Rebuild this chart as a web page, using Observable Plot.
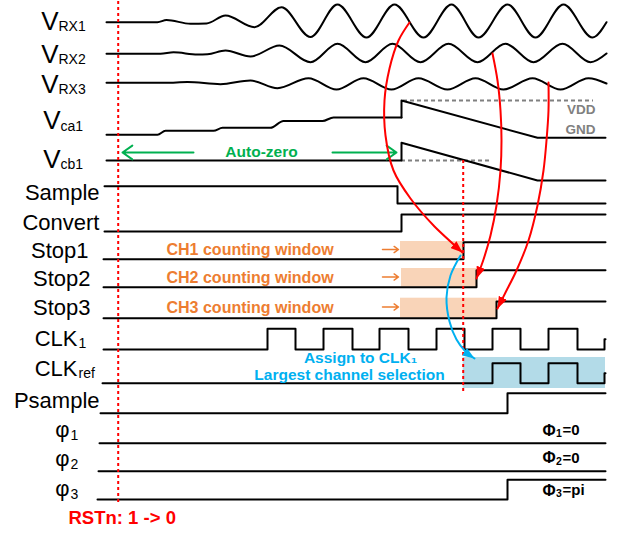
<!DOCTYPE html>
<html><head><meta charset="utf-8">
<script src="https://cdn.jsdelivr.net/npm/d3@7"></script>
<script src="https://cdn.jsdelivr.net/npm/@observablehq/plot@0.6"></script>
<style>html,body{margin:0;padding:0;background:#fff;overflow:hidden}</style>
</head><body><div id="chart"></div>
<script>
// ================= DATA (time axis in diagram units, levels 0 = low, 1 = high) =================
const tEnd = 605;

// analog waveforms: [time, value] extrema
const vrx1 = [[106,21.7],[157,21.7],[166,19.5],[190,23.3],[206,23],[225,15],[254,26.7],[281,6.7],[310,36.5],[337,4],[366,37],[394,4],[423,37],[451,4],[478,37],[507,4],[535,37],[563,4],[592,37],[606,21.7]];
const vrx2 = [[106,53.3],[160,53.3],[173,51.8],[197,54],[207,53.8],[225,50],[250,56],[279,45],[310,61.7],[337,43.3],[365,61.7],[392,43.3],[420,61.7],[448,43.3],[477,61.7],[505,43.3],[533,61.7],[562,43.3],[590,61.7],[606,53]];
const vrx3 = [[106,82.3],[165,82.3],[187,81.5],[220,83.7],[250,80],[277,87.7],[308,77.7],[336,89],[363,77.7],[391,89],[418,77.7],[447,89],[475,77.7],[503,89],[532,77.7],[560,89],[588,77.7],[606,83]];
const vca1Smooth = [[106,134.3],[157,134.3],[165,130.3],[213,130.3],[222,127.3],[270,127.3],[283,120.5],[322,120.5],[333,117],[401,117]];
const vca1Ramp = [[401,117],[401,100],[537,137.3],[605,137.3]];
const vcb1 = [[106,160],[401,160],[401,142.3],[537,180],[605,180]];

// digital signals: [edge time, level]
const digital = {
  Sample:  [[104,1],[397,0]],
  Convert: [[104,0],[401,1]],
  Stop1:   [[103,0],[463,1]],
  Stop2:   [[103,0],[476,1]],
  Stop3:   [[103,0],[496,1]],
  CLK1:    [[103,0],[267,1],[295,0],[323,1],[352,0],[379,1],[408,0],[436,1],[464,0],[492,1],[520,0],[548,1],[577,0],[604,0.5]],
  CLKref:  [[102,0],[492,1],[520,0],[548,1],[577,0],[604,0.5]],
  Psample: [[100,0],[507,1]],
  "φ1":    [[99,0]],
  "φ2":    [[98,0]],
  "φ3":    [[97,0],[507,1]]
};

// counting windows
const windows = [
  {lane:"Stop1", label:"CH1 counting window", start:400, stop:463},
  {lane:"Stop2", label:"CH2 counting window", start:401, stop:476},
  {lane:"Stop3", label:"CH3 counting window", start:400, stop:497}
];

// labels
const vLabels = [
  {main:"V", sub:"RX1", lane:"VRX1"}, {main:"V", sub:"RX2", lane:"VRX2"}, {main:"V", sub:"RX3", lane:"VRX3"},
  {main:"V", sub:"ca1", lane:"Vca1"}, {main:"V", sub:"cb1", lane:"Vcb1"}
];
const sigLabels = [
  {main:"Sample", sub:"", lane:"Sample"}, {main:"Convert", sub:"", lane:"Convert"},
  {main:"Stop1", sub:"", lane:"Stop1"}, {main:"Stop2", sub:"", lane:"Stop2"}, {main:"Stop3", sub:"", lane:"Stop3"},
  {main:"CLK", sub:"1", lane:"CLK1"}, {main:"CLK", sub:"ref", lane:"CLKref"},
  {main:"Psample", sub:"", lane:"Psample"},
  {main:"φ", sub:"1", lane:"φ1"}, {main:"φ", sub:"2", lane:"φ2"}, {main:"φ", sub:"3", lane:"φ3"}
];
const phaseLabels = [
  {main:"Φ", sub:"1", rest:"=0", lane:"φ1"}, {main:"Φ", sub:"2", rest:"=0", lane:"φ2"}, {main:"Φ", sub:"3", rest:"=pi", lane:"φ3"}
];
const railLabels = ["VDD", "GND"];
const autoZeroLabel = "Auto-zero";
const assignLabels = ["Assign to CLK₁", "Largest channel selection"];
const resetLabel = "RSTn: 1 -> 0";
const resetTime = 117.7;
const selectTime = 462.7;

// ================= LAYOUT =================
const laneLevels = { // [low y, high y]
  Sample:[203,185.7], Convert:[231,214], Stop1:[258.7,241.7], Stop2:[286.7,269.7], Stop3:[317.7,301],
  CLK1:[349,328.3], CLKref:[382.7,362.7], Psample:[412.7,392.7],
  "φ1":[442.7,442.7], "φ2":[470.7,470.7], "φ3":[499,479.3]
};
const labelPos = { // [anchor x, main y, sub y]
  VRX1:[58,20.7,26.3], VRX2:[58,53.7,59.3], VRX3:[58,83.7,89.3], Vca1:[60,119.7,125.8], Vcb1:[60,158.7,163.8],
  Sample:[99,192.8], Convert:[99,222], Stop1:[88,250.5], Stop2:[90,278.5], Stop3:[90,307.5],
  CLK1:[77,338.3,342.8], CLKref:[77,368.3,372.8], Psample:[99,400.8],
  "φ1":[69,429,434.8], "φ2":[69,458,463.8], "φ3":[69,488,493.8]
};
const windowTextY = {Stop1:249.5, Stop2:277, Stop3:307};
const windowTop = {Stop1:241, Stop2:268, Stop3:297.7};
const phaseY = {"φ1":430, "φ2":457.3, "φ3":490};

const font = "Liberation Sans, Arial, Helvetica, sans-serif";
const RED = "#ff0000", GREEN = "#00b050", ORANGE = "#ed7d31", BLUE = "#00b0f0", GRAY = "#808080";

// arrow paths (annotation curves)
const redArrows = [
  {id:1, pts:[[409,22],[398,40],[389,68],[384,100],[385,135],[393,170],[410,198],[434,226],[462,252]]},
  {id:2, pts:[[492,53],[497,80],[500,110],[501,140],[500,170],[496,205],[490,235],[483,259],[476,278]]},
  {id:3, pts:[[548,82],[548,110],[546,140],[543,170],[537,205],[528,240],[516,270],[505,292],[497,308]]}
];
const blueArrow = [[460,255],[450,275],[446,297],[449,321],[456,339],[465,351],[474,358]];

// ================= BUILD ROWS =================
const analogSmooth = [];
[["VRX1",vrx1],["VRX2",vrx2],["VRX3",vrx3],["Vca1a",vca1Smooth]].forEach(([n,p]) => p.forEach(([t,v]) => analogSmooth.push({n,t,v})));
const analogLinear = [];
[["Vca1b",vca1Ramp],["Vcb1",vcb1]].forEach(([n,p]) => p.forEach(([t,v]) => analogLinear.push({n,t,v})));

const digitalRows = [];
for (const [lane, edges] of Object.entries(digital)) {
  const [lo, hi] = laneLevels[lane];
  const pts = edges.concat([[tEnd, edges[edges.length-1][1]]]);
  pts.forEach(([t, lv]) => digitalRows.push({lane, t, y: lo + lv*(hi-lo)}));
}

const arrowRows = [];
redArrows.forEach(a => a.pts.forEach(([x,y]) => arrowRows.push({id:a.id, x, y})));
const blueRows = blueArrow.map(([x,y]) => ({id:"b", x, y}));

function filledHead(color) {
  const m = d3.create("svg:marker")
    .attr("viewBox", "-6 -4.5 12 9")
    .attr("markerUnits", "userSpaceOnUse")
    .attr("markerWidth", 12).attr("markerHeight", 9)
    .attr("refX", 6).attr("refY", 0)
    .attr("orient", "auto");
  m.append("path").attr("d", "M-6,-4.5L6,0L-6,4.5Z").attr("fill", color).attr("stroke", "none");
  return m.node();
}

const chart = Plot.plot({
  width: 618, height: 533, margin: 0,
  x: {domain: [0, 618], range: [0, 618], axis: null},
  y: {domain: [0, 533], range: [0, 533], axis: null},
  style: {background: "#fff", fontFamily: font},
  marks: [
    // shaded windows
    Plot.rect(windows, {x1: "start", x2: "stop", y1: d => windowTop[d.lane], y2: d => laneLevels[d.lane][0], fill: "#f9d4b8"}),
    Plot.rect([{a: selectTime, b: tEnd}], {x1: "a", x2: "b", y1: () => laneLevels.CLKref[1] - 5.7, y2: () => laneLevels.CLKref[0] + 5.3, fill: "#b3dbe8"}),
    // rail reference dashes
    Plot.ruleY([{y:100, a:403, b:593}, {y:160, a:401, b:490}], {y: "y", x1: "a", x2: "b", stroke: GRAY, strokeWidth: 2, strokeDasharray: "4,3"}),
    // waveforms
    Plot.line(analogSmooth, {x: "t", y: "v", z: "n", curve: "monotone-x", stroke: "#000", strokeWidth: 2}),
    Plot.line(analogLinear, {x: "t", y: "v", z: "n", stroke: "#000", strokeWidth: 2}),
    Plot.line(digitalRows, {x: "t", y: "y", z: "lane", curve: "step-after", stroke: "#000", strokeWidth: 2}),
    // dotted markers
    Plot.ruleX([{x: resetTime, a: 1, b: 505}, {x: selectTime, a: 160, b: 392}], {x: "x", y1: "a", y2: "b", stroke: RED, strokeWidth: 2, strokeDasharray: "3,3"}),
    // labels
    Plot.text(vLabels, {x: d => labelPos[d.lane][0], y: d => labelPos[d.lane][1], text: "main", textAnchor: "end", fontSize: 26, fill: "#000"}),
    Plot.text(vLabels, {x: d => labelPos[d.lane][0], y: d => labelPos[d.lane][2], text: "sub", textAnchor: "start", fontSize: 14, fill: "#000"}),
    Plot.text(sigLabels, {x: d => labelPos[d.lane][0], y: d => labelPos[d.lane][1], text: "main", textAnchor: "end", fontSize: 22, fill: "#000"}),
    Plot.text(sigLabels.filter(d => d.sub), {x: d => labelPos[d.lane][0] + 1, y: d => labelPos[d.lane][2], text: "sub", textAnchor: "start", fontSize: 14, fill: "#000"}),
    Plot.text(phaseLabels, {x: 542, y: d => phaseY[d.lane], text: "main", textAnchor: "start", fontSize: 16, fontWeight: "bold", fill: "#000"}),
    Plot.text(phaseLabels, {x: 555.5, y: d => phaseY[d.lane] + 3.5, text: "sub", textAnchor: "start", fontSize: 10.5, fontWeight: "bold", fill: "#000"}),
    Plot.text(phaseLabels, {x: 562, y: d => phaseY[d.lane], text: "rest", textAnchor: "start", fontSize: 15, fontWeight: "bold", fill: "#000"}),
    Plot.text(railLabels, {x: 595, y: (d, i) => [109, 129][i], text: d => d, textAnchor: "end", fontSize: 13.5, fontWeight: "bold", fill: GRAY}),
    Plot.text(windows, {x: 166, y: d => windowTextY[d.lane], text: "label", textAnchor: "start", fontSize: 16, fontWeight: "bold", fill: ORANGE}),
    Plot.text([autoZeroLabel], {x: 261, y: 152, text: d => d, fontSize: 15.5, fontWeight: "bold", fill: GREEN}),
    Plot.text(assignLabels, {x: (d, i) => [360, 349][i], y: (d, i) => [357.5, 375][i], text: d => d, fontSize: 15.5, fontWeight: "bold", fill: BLUE}),
    Plot.text([resetLabel], {x: 68, y: 518, text: d => d, textAnchor: "start", fontSize: 18.5, fontWeight: "bold", fill: RED}),
    // straight arrows
    Plot.arrow([{x1:193, x2:122}, {x1:332, x2:396}], {x1: "x1", x2: "x2", y1: 152, y2: 152, stroke: GREEN, strokeWidth: 2, headLength: 9, headAngle: 70}),
    Plot.arrow(windows, {x1: 382, x2: 398, y1: d => windowTextY[d.lane] - 0.5, y2: d => windowTextY[d.lane] - 0.5, stroke: ORANGE, strokeWidth: 1.5, headLength: 8, headAngle: 70}),
    // curved annotation arrows
    Plot.line(arrowRows, {x: "x", y: "y", z: "id", curve: "catmull-rom", stroke: RED, strokeWidth: 2, markerEnd: (color) => filledHead(color)}),
    Plot.line(blueRows, {x: "x", y: "y", z: "id", curve: "catmull-rom", stroke: BLUE, strokeWidth: 2, markerEnd: (color) => filledHead(color)})
  ]
});
document.getElementById("chart").appendChild(chart);
</script>
</body></html>
